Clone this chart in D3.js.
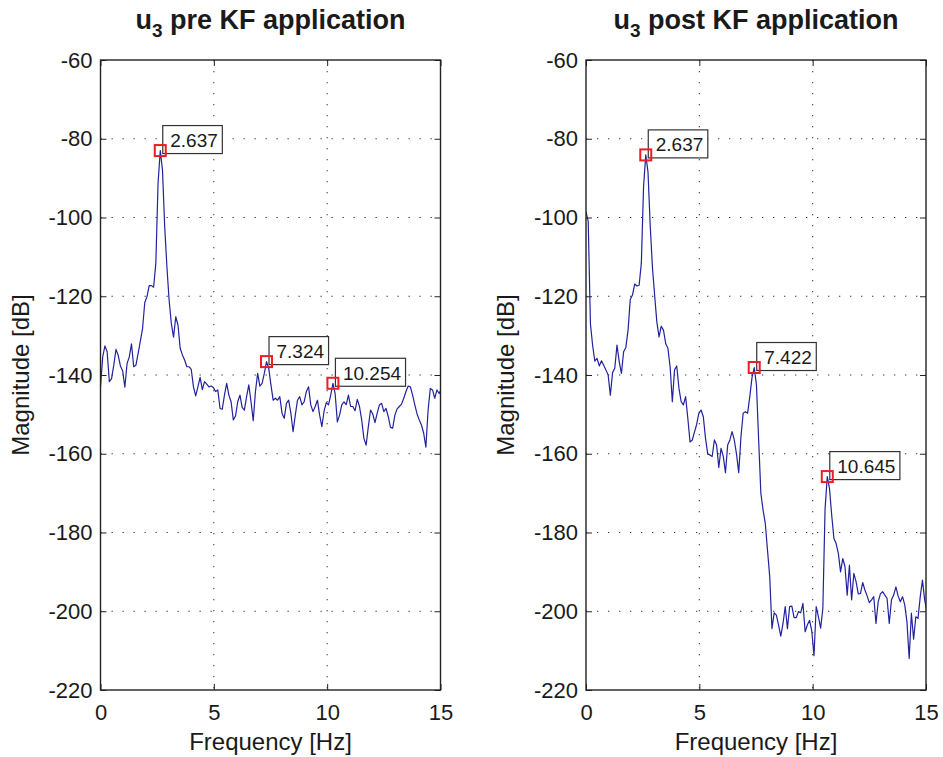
<!DOCTYPE html>
<html><head><meta charset="utf-8">
<script src="https://cdn.jsdelivr.net/npm/d3@7"></script>
<style>
body{margin:0;background:#fff}
svg{display:block}
text{font-family:"Liberation Sans",Arial,Helvetica,sans-serif;fill:#1a1a1a}
</style>
</head><body>
<svg id="chart" width="943" height="757"></svg>
<script>
// ---------------- data ----------------
// FFT bin spacing (Hz): sample rate 100 Hz, 1024-point FFT
const binHz = 100 / 1024;
const xTicks = [0, 5, 10, 15];
const yTicks = [-60, -80, -100, -120, -140, -160, -180, -200, -220];

// u3 magnitude spectrum before Kalman filter (dB), one value per FFT bin
const preDb = [
 -143.0,-135.4,-132.6,-134.1,-141.7,-140.9,-137.5,-133.5,-135.0,-137.7,
 -138.9,-143.1,-137.1,-135.4,-132.1,-137.9,-137.5,-134.5,-131.4,-128.2,
 -121.6,-120.1,-117.3,-117.3,-117.7,-111.6,-91.3,-83.0,-87.9,-102.3,
 -112.5,-121.0,-126.9,-130.4,-125.2,-127.3,-133.2,-134.9,-136.2,-137.9,
 -137.9,-138.6,-143.0,-145.3,-143.0,-140.6,-143.7,-141.7,-142.3,-143.0,
 -142.8,-143.2,-144.2,-143.8,-148.5,-148.7,-145.1,-142.1,-145.1,-146.8,
 -151.4,-150.4,-146.8,-145.1,-148.2,-148.9,-145.5,-142.5,-146.8,-151.6,
 -144.2,-139.6,-142.8,-142.1,-139.6,-136.6,-138.3,-142.5,-146.4,-145.9,
 -146.4,-145.5,-149.7,-151.0,-147.2,-146.4,-149.7,-154.4,-150.2,-146.4,
 -145.5,-147.6,-146.8,-144.2,-143.0,-147.6,-149.3,-148.0,-146.4,-150.2,
 -153.1,-149.2,-147.0,-147.6,-145.1,-142.1,-144.7,-151.9,-150.2,-147.6,
 -146.8,-147.5,-145.1,-148.0,-148.0,-149.1,-146.2,-148.0,-151.4,-156.1,
 -157.8,-153.1,-148.9,-149.9,-152.1,-149.7,-147.6,-147.2,-149.3,-148.5,
 -150.6,-153.3,-153.5,-150.2,-148.6,-148.0,-147.4,-145.9,-144.2,-142.8,
 -143.0,-145.1,-147.6,-149.9,-151.4,-152.7,-154.8,-158.3,-148.9,-143.4,
 -143.8,-145.9,-143.8,-144.7,-143.5
];

// u3 magnitude spectrum after Kalman filter (dB)
const postDb = [
 -98.5,-101.0,-127.0,-132.5,-136.5,-135.8,-137.7,-136.4,-137.5,-138.7,
 -140.0,-145.1,-139.4,-138.3,-132.4,-136.6,-139.6,-134.1,-133.0,-128.6,
 -120.8,-119.7,-116.9,-117.4,-117.2,-111.6,-92.2,-84.1,-88.4,-101.9,
 -112.5,-119.7,-126.5,-130.3,-127.6,-128.6,-132.0,-133.2,-137.9,-146.8,
 -138.7,-137.7,-143.4,-146.8,-147.6,-145.5,-151.0,-157.0,-156.5,-154.5,
 -152.5,-149.7,-148.9,-150.6,-156.1,-160.1,-160.3,-160.7,-156.5,-157.8,
 -163.5,-158.6,-160.6,-164.8,-157.8,-156.5,-154.4,-156.5,-160.1,-164.8,
 -155.7,-149.7,-149.3,-149.7,-145.5,-140.6,-138.1,-142.5,-156.5,-170.1,
 -174.3,-177.7,-184.5,-191.2,-204.4,-200.4,-201.0,-203.5,-206.3,-203.1,
 -198.8,-204.4,-198.8,-198.7,-201.6,-201.6,-200.1,-200.4,-198.0,-205.2,
 -203.5,-202.3,-205.0,-211.3,-198.8,-201.4,-204.3,-199.3,-174.0,-165.8,
 -168.8,-175.6,-181.5,-182.8,-185.3,-190.0,-186.6,-188.7,-195.9,-188.3,
 -197.1,-190.4,-192.5,-195.6,-195.5,-192.7,-194.6,-196.1,-197.8,-197.1,
 -196.3,-203.1,-197.6,-195.6,-195.0,-195.9,-196.7,-203.1,-197.1,-195.9,
 -193.8,-196.1,-197.6,-196.3,-198.4,-202.7,-212.0,-200.5,-207.1,-201.4,
 -201.8,-196.3,-192.1,-197.1,-200.1
];

// data-tip frequencies (Hz)
const preTips = ["2.637", "7.324", "10.254"];
const postTips = ["2.637", "7.422", "10.645"];

// ---------------- drawing ----------------
const svg = d3.select("#chart");
const plotTop = 60, plotBottom = 690;

function panel(opts) {
  const {x0, x1, db, tips, title, id} = opts;
  const x = d3.scaleLinear().domain([0, 15]).range([x0, x1]);
  const y = d3.scaleLinear().domain([-220, -60]).range([plotBottom, plotTop]);
  const g = svg.append("g");
  const pts = db.map((v, i) => ({f: i * binHz, v}));

  // grid
  g.selectAll(".gx").data(xTicks.slice(1, -1)).join("line")
    .attr("x1", d => x(d)).attr("x2", d => x(d))
    .attr("y1", plotTop).attr("y2", plotBottom)
    .attr("stroke", "#333").attr("stroke-width", 1).attr("stroke-dasharray", "1.3,9.7");
  g.selectAll(".gy").data(yTicks.slice(1, -1)).join("line")
    .attr("y1", d => y(d)).attr("y2", d => y(d))
    .attr("x1", x0).attr("x2", x1)
    .attr("stroke", "#333").attr("stroke-width", 1).attr("stroke-dasharray", "1.3,9.7");

  // clip
  svg.append("clipPath").attr("id", id).append("rect")
    .attr("x", x0).attr("y", plotTop).attr("width", x1 - x0).attr("height", plotBottom - plotTop);

  g.append("path").datum(pts)
    .attr("clip-path", `url(#${id})`)
    .attr("fill", "none").attr("stroke", "#22229e").attr("stroke-width", 1.2)
    .attr("stroke-linejoin", "round")
    .attr("d", d3.line().x(d => x(d.f)).y(d => y(d.v)));

  // axes (ticks inward)
  const fs = "22px";
  const ax = g.append("g").attr("transform", `translate(0,${plotBottom})`)
    .call(d3.axisBottom(x).tickValues(xTicks).tickSize(-6).tickPadding(14).tickFormat(d3.format("d")));
  const axT = g.append("g").attr("transform", `translate(0,${plotTop})`)
    .call(d3.axisTop(x).tickValues(xTicks).tickSize(-6).tickFormat(""));
  const ay = g.append("g").attr("transform", `translate(${x0},0)`)
    .call(d3.axisLeft(y).tickValues(yTicks).tickSize(-6).tickPadding(8).tickFormat(d => String(d)));
  const ayR = g.append("g").attr("transform", `translate(${x1},0)`)
    .call(d3.axisRight(y).tickValues(yTicks).tickSize(-6).tickFormat(""));
  [ax, axT, ay, ayR].forEach(a => {
    a.select(".domain").remove();
    a.selectAll("line").attr("stroke", "#222").attr("stroke-width", 1);
    a.selectAll("text").style("font-size", fs).attr("fill", "#1a1a1a")
      .style("font-family", '"Liberation Sans",Arial,sans-serif');
  });

  // box
  g.append("rect").attr("x", x0).attr("y", plotTop).attr("width", x1 - x0).attr("height", plotBottom - plotTop)
    .attr("fill", "none").attr("stroke", "#222").attr("stroke-width", 1.4);

  // labels
  const cx = (x0 + x1) / 2;
  g.append("text").attr("x", cx).attr("y", 750).attr("text-anchor", "middle")
    .style("font-size", "24px").text("Frequency [Hz]");
  g.append("text").attr("transform", `translate(${x0 - 72},${(plotTop + plotBottom) / 2}) rotate(-90)`)
    .attr("text-anchor", "middle").style("font-size", "24px").text("Magnitude [dB]");
  const t = g.append("text").attr("x", cx).attr("y", 29).attr("text-anchor", "middle")
    .style("font-size", "27px").style("font-weight", "bold");
  t.append("tspan").text("u");
  t.append("tspan").attr("dy", 8).style("font-size", "19px").text("3");
  t.append("tspan").attr("dy", -8).text(" " + title);

  // data tips
  tips.forEach(lbl => {
    const f = +lbl;
    const p = pts.reduce((a, b) => Math.abs(b.f - f) < Math.abs(a.f - f) ? b : a);
    const px = x(p.f), py = y(p.v);
    const tg = g.append("g");
    const rect = tg.append("rect").attr("fill", "#fff").attr("stroke", "#333").attr("stroke-width", 1.2);
    const tx = tg.append("text").attr("x", px + 10).attr("y", py - 3.5)
      .style("font-size", "19px").text(d3.format(".3f")(p.f));
    const w = tx.node().getComputedTextLength();
    rect.attr("x", px + 2.5).attr("y", py - 25).attr("width", w + 12).attr("height", 28);
    g.append("rect").attr("x", px - 5.5).attr("y", py - 5.5).attr("width", 11).attr("height", 11)
      .attr("fill", "none").attr("stroke", "#ee1c25").attr("stroke-width", 2);
  });
}

panel({x0: 100.5, x1: 440.5, db: preDb, tips: preTips, title: "pre KF application", id: "clipA"});
panel({x0: 586, x1: 926, db: postDb, tips: postTips, title: "post KF application", id: "clipB"});
</script>
</body></html>
